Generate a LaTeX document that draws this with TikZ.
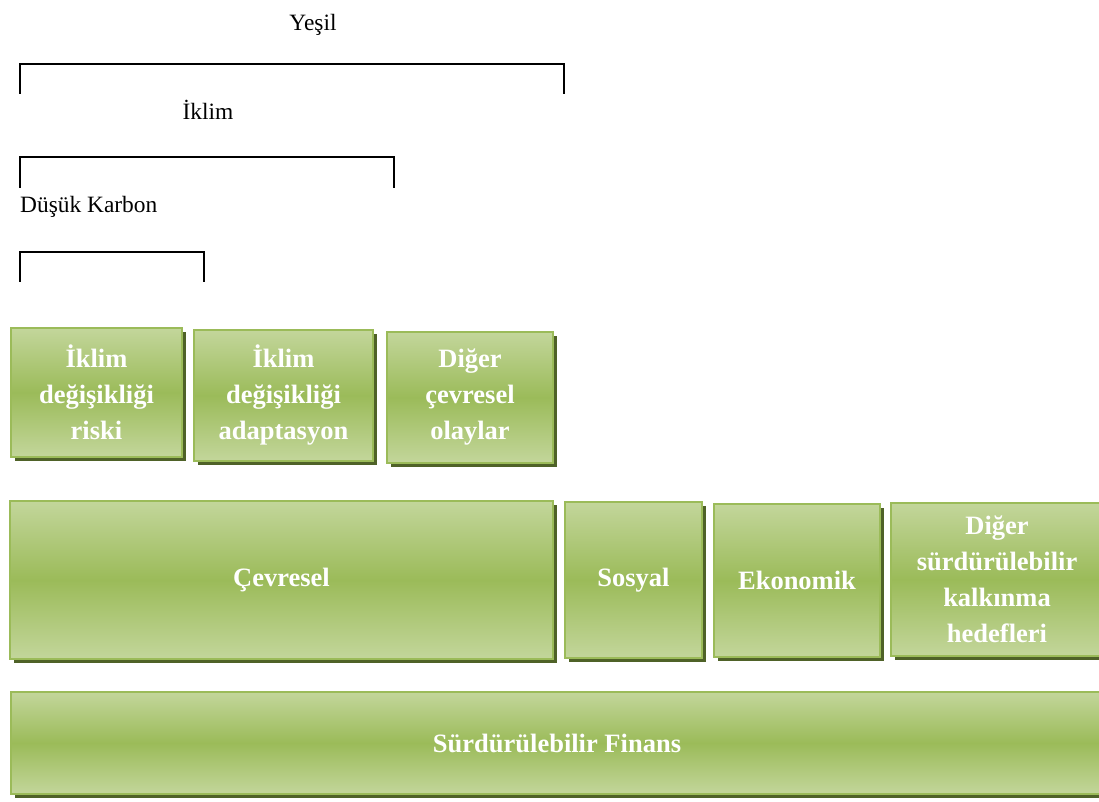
\documentclass[tikz,border=0pt]{standalone}
\usepackage{fontspec}
\setmainfont{Liberation Serif}
\usepackage{xcolor}
\usepackage{tikz}
\usetikzlibrary{shadows, positioning}
\definecolor{leaflight}{HTML}{C3D69B}
\definecolor{leafmid}{HTML}{9BBB59}
\definecolor{leafedge}{HTML}{9BBB59}
\definecolor{leafshadow}{HTML}{4F6228}
\tikzset{
  greenbox/.style={
    rectangle, anchor=north west, inner sep=0pt, outer sep=0pt,
    draw=leafedge, line width=2pt,
    top color=leaflight, bottom color=leaflight, middle color=leafmid,
    general shadow={fill=leafshadow, shadow xshift=4pt, shadow yshift=-4pt},
    text=white, align=center,
    font=\fontsize{26.5}{36}\selectfont\bfseries,
  },
  label/.style={anchor=base, inner sep=0pt, font=\fontsize{23.4}{28}\selectfont},
  bracket/.style={line width=2pt, line cap=rect},
}
\begin{document}
\begin{tikzpicture}[x=1pt, y=-1pt]
  \useasboundingbox (0,0) rectangle (1099,802);

  % scope labels and brackets
  \node[label] (yesil) at (313,31) {Yeşil};
  \draw[bracket] (20,93) -- (20,64) -- (564,64) -- (564,93);
  \node[label] (iklim) at (208,120) {İklim};
  \draw[bracket] (20,187) -- (20,157) -- (394,157) -- (394,187);
  \node[label, anchor=base west] (karbon) at (20,213) {Düşük Karbon};
  \draw[bracket] (20,281) -- (20,252) -- (204,252) -- (204,281);

  % top row
  \node[greenbox, minimum width=171, minimum height=129] (risk) at (11,328)
    {İklim\\değişikliği\\riski};
  \node[greenbox, minimum width=179, minimum height=131] (adapt) at (194,330)
    {İklim\\değişikliği\\adaptasyon};
  \node[greenbox, minimum width=166, minimum height=131] (cevre) at (387,332)
    {Diğer\\çevresel\\olaylar};

  % middle row
  \node[greenbox, minimum width=543, minimum height=158] (cevresel) at (10,501)
    {Çevresel};
  \node[greenbox, minimum width=137, minimum height=156] (sosyal) at (565,502)
    {Sosyal};
  \node[greenbox, minimum width=166, minimum height=153] (ekonomik) at (714,504)
    {Ekonomik};
  \node[greenbox, minimum width=212, minimum height=153] (hedef) at (891,503)
    {Diğer\\sürdürülebilir\\kalkınma\\hedefleri};

  % bottom row
  \node[greenbox, minimum width=1092, minimum height=102] (finans) at (11,692)
    {Sürdürülebilir Finans};

\end{tikzpicture}
\end{document}
